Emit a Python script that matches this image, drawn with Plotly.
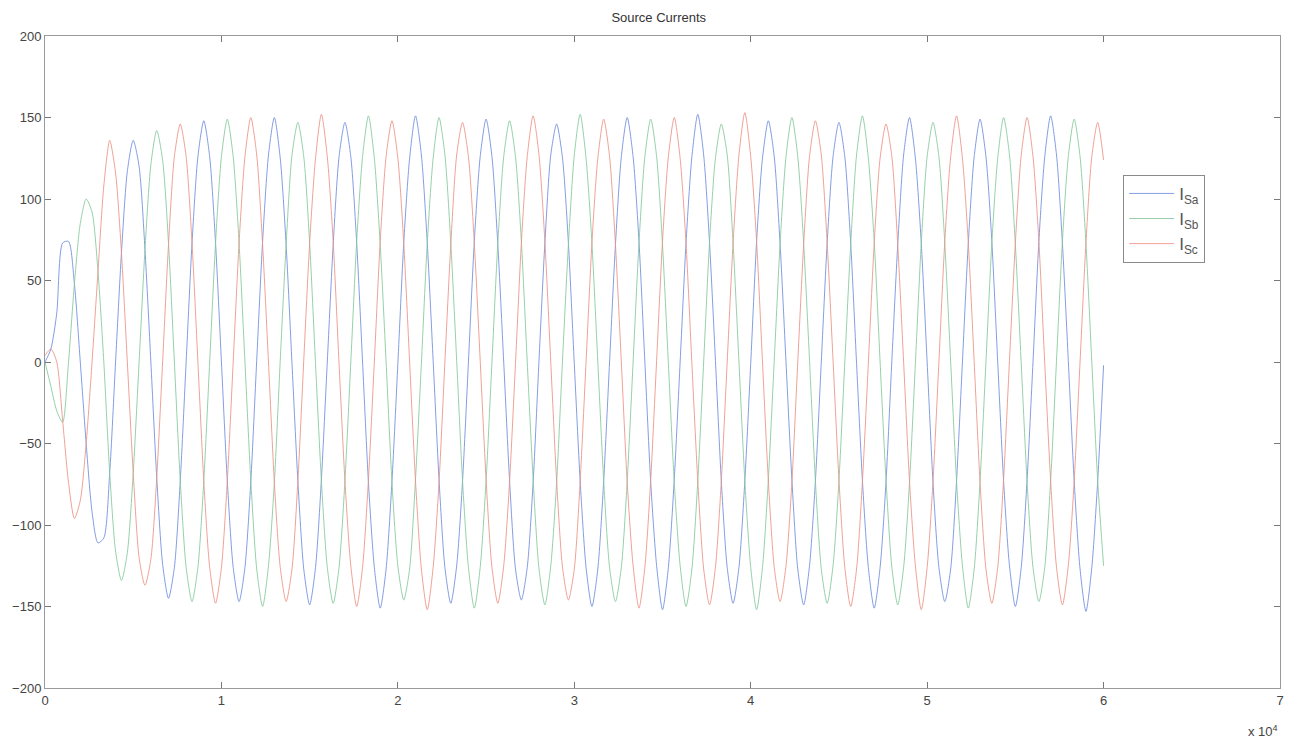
import numpy as np
import plotly.graph_objects as go

i_sa = [
    0, 8, 30, 73, 74, 48, 0, -50, -92, -111, -108, -68,
    0, 67, 117, 136, 120, 69, 0, -71, -124, -145, -126, -73,
    0, 73, 126, 148, 126, 73, 0, -73, -126, -147, -126, -73,
    1, 74, 127, 150, 125, 72, -1, -73, -127, -149, -126, -72,
    0, 72, 126, 147, 126, 73, 0, -74, -126, -151, -127, -73,
    -1, 73, 125, 151, 127, 73, 1, -72, -126, -148, -125, -73,
    0, 74, 126, 149, 126, 72, 0, -73, -127, -146, -126, -74,
    1, 73, 127, 146, 125, 73, -1, -73, -126, -150, -127, -73,
    0, 72, 126, 150, 126, 74, 0, -74, -125, -152, -126, -72,
    0, 73, 126, 152, 127, 73, 1, -73, -126, -148, -126, -73,
    -1, 74, 125, 148, 126, 72, 0, -72, -127, -149, -125, -73,
    0, 73, 126, 147, 126, 73, -1, -73, -126, -151, -126, -74,
    1, 72, 127, 150, 125, 73, 0, -74, -126, -147, -127, -73,
    0, 73, 126, 149, 126, 74, 0, -73, -125, -150, -126, -72,
    0, 74, 126, 151, 127, 73, 1, -73, -127, -153, -126, -73,
    -2,
]
i_sb = [
    0, -15, -30, -37, 0, 48, 85, 100, 92, 56, 0, -68,
    -116, -134, -117, -68, 0, 69, 121, 142, 124, 73, 0, -73,
    -126, -147, -126, -73, 0, 73, 126, 149, 126, 73, 0, -73,
    -127, -150, -125, -74, 1, 72, 127, 147, 126, 73, -1, -73,
    -126, -148, -126, -73, 0, 74, 126, 151, 125, 72, 0, -74,
    -125, -146, -127, -72, -1, 73, 125, 150, 127, 73, 1, -73,
    -126, -151, -126, -73, 0, 73, 126, 148, 126, 74, 0, -72,
    -127, -149, -125, -74, 1, 72, 127, 152, 125, 73, 0, -73,
    -126, -147, -126, -73, 0, 73, 126, 149, 126, 72, -1, -74,
    -125, -150, -127, -73, 0, 74, 125, 146, 127, 73, 0, -73,
    -126, -152, -126, -72, 1, 73, 126, 150, 126, 73, 1, -73,
    -127, -148, -125, -73, 0, 72, 127, 151, 125, 74, 0, -72,
    -126, -149, -126, -74, -1, 73, 126, 147, 126, 73, 0, -73,
    -125, -151, -127, -73, 0, 73, 125, 150, 127, 72, -1, -74,
    -126, -147, -126, -73, 1, 74, 126, 149, 126, 73, 0, -73,
    -125,
]
i_sc = [
    4, 8, 0, -36, -74, -96, -85, -50, 0, 55, 108, 136,
    116, 67, 0, -68, -120, -137, -121, -71, 0, 72, 126, 146,
    126, 73, 0, -73, -126, -148, -126, -73, 0, 73, 126, 150,
    127, 72, 0, -74, -126, -147, -127, -73, 1, 73, 125, 152,
    126, 74, -1, -73, -125, -150, -126, -72, 0, 74, 126, 148,
    125, 73, 0, -73, -127, -152, -126, -74, 0, 72, 127, 147,
    126, 73, 1, -72, -126, -148, -125, -73, -1, 73, 126, 151,
    127, 74, 0, -73, -126, -146, -127, -73, 0, 73, 125, 149,
    126, 72, 0, -74, -125, -151, -126, -72, 1, 74, 126, 150,
    125, 73, -1, -73, -127, -149, -126, -73, 0, 73, 127, 153,
    126, 74, 0, -73, -126, -147, -125, -74, 0, 72, 126, 148,
    127, 73, 1, -72, -126, -150, -127, -73, -1, 73, 125, 146,
    126, 72, 0, -73, -125, -152, -126, -73, 0, 74, 126, 151,
    125, 73, 0, -74, -127, -148, -126, -72, 1, 73, 127, 150,
    126, 74, -1, -73, -126, -149, -125, -73, 0, 73, 126, 147,
    124,
]
last_sample = 60000
series_names = ["I<sub>Sa</sub>", "I<sub>Sb</sub>", "I<sub>Sc</sub>"]
series_colors = ["rgba(110,140,222,0.85)", "rgba(130,200,155,0.85)", "rgba(236,145,132,0.85)"]
x_tick_vals = [0, 10000, 20000, 30000, 40000, 50000, 60000, 70000]
x_tick_text = ["0", "1", "2", "3", "4", "5", "6", "7"]
y_tick_vals = [-200, -150, -100, -50, 0, 50, 100, 150, 200]

samples = np.arange(len(i_sa)) * (last_sample / (len(i_sa) - 1))

fig = go.Figure()
for name, vals, col in zip(series_names, [i_sa, i_sb, i_sc], series_colors):
    fig.add_trace(go.Scatter(x=samples, y=vals, mode="lines", name=name,
                             line=dict(color=col, width=1, shape="spline", smoothing=0.7)))

font_family = "Liberation Sans, Arial, Helvetica, sans-serif"
axis_common = dict(showline=True, linecolor="#9a9a9a", linewidth=1, mirror="ticks",
                   ticks="inside", ticklen=6, tickcolor="#777", showgrid=False,
                   zeroline=False, tickfont=dict(size=13, color="#444", family=font_family))

fig.update_layout(
    width=1298, height=744,
    margin=dict(l=42, r=18, t=36, b=56),
    paper_bgcolor="white", plot_bgcolor="white",
    title=dict(text="Source Currents", x=0.5075, xanchor="center", y=0.977, yanchor="middle",
               font=dict(size=13, color="#333", family=font_family)),
    xaxis=dict(range=[0, 70000], tickvals=x_tick_vals, ticktext=x_tick_text, **axis_common),
    yaxis=dict(range=[-200, 200], tickvals=y_tick_vals, **axis_common),
    legend=dict(x=0.873, y=0.787, xanchor="left", yanchor="top",
                bgcolor="white", bordercolor="#8a8a8a", borderwidth=1,
                itemwidth=45,
                font=dict(size=17, color="#555", family=font_family)),
    annotations=[dict(text="x 10<sup>4</sup>", xref="paper", yref="paper", x=1.0, y=-0.066,
                      xanchor="right", yanchor="middle", showarrow=False,
                      font=dict(size=13, color="#444", family=font_family))],
)

fig.write_html("out.html")
